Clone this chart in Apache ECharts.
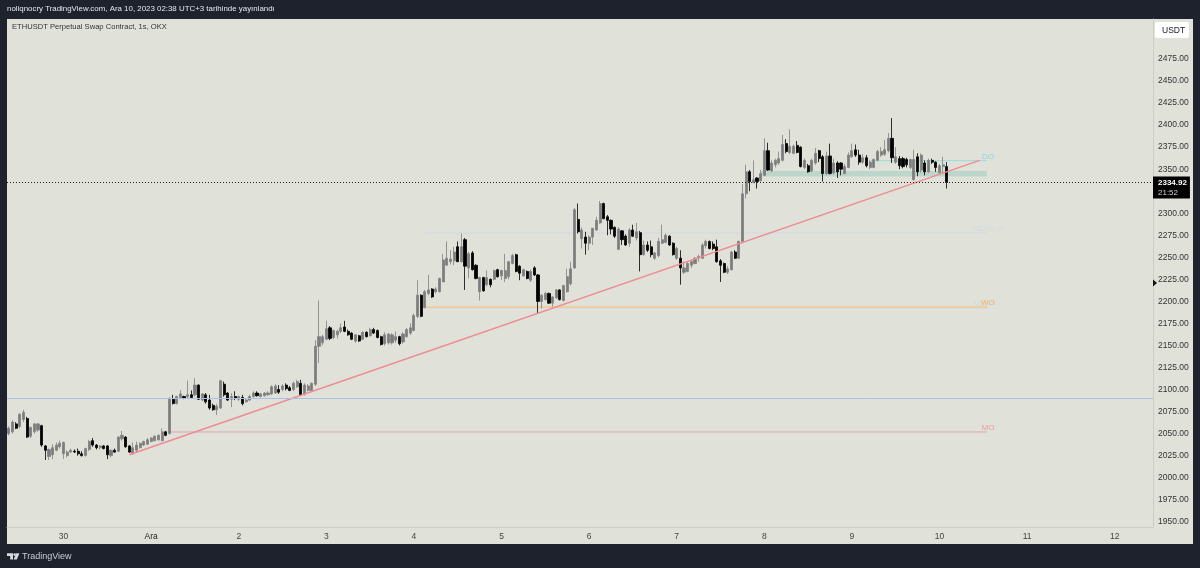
<!DOCTYPE html>
<html lang="en">
<head>
    <meta charset="UTF-8">
    <title>ETHUSDT</title>
    <script src="https://cdn.jsdelivr.net/npm/echarts@6/dist/echarts.min.js"></script>
    <style>
        html, body { margin: 0; padding: 0; background: #1e222d; }
        #chart { width: 1200px; height: 568px; }
    </style>
</head>
<body>
<div id="chart"></div>
<script>
    // hourly candles: open, close, low, high
    var candles = [
        [2050,2056,2048,2058],[2052,2063,2050,2065],[2061,2056,2055,2063],[2058,2072,2056,2073],[2066,2074,2063,2077],
        [2067,2046,2045,2069],[2047,2057,2045,2058],[2052,2061,2050,2062],[2054,2061,2052,2062],[2059,2037,2035,2060],
        [2036,2031,2020,2037],[2024,2032,2020,2033],[2026,2034,2021,2038],[2031,2037,2030,2040],[2035,2039,2033,2042],
        [2027,2040,2021,2041],[2025,2029,2023,2031],[2029,2031,2028,2033],[2030,2029,2028,2032],[2030,2027,2025,2033],
        [2027,2025,2024,2030],[2025,2033,2024,2034],[2032,2041,2030,2043],[2042,2037,2035,2045],[2037,2034,2032,2038],
        [2034,2036,2032,2037],[2036,2033,2032,2037],[2036,2026,2021,2037],[2025,2031,2023,2032],[2031,2029,2028,2033],
        [2030,2046,2029,2047],[2044,2048,2042,2053],[2046,2035,2034,2047],[2036,2029,2028,2037],[2027,2034,2026,2040],
        [2031,2037,2029,2041],[2034,2039,2033,2040],[2037,2041,2036,2042],[2038,2043,2037,2045],[2041,2045,2040,2046],
        [2042,2047,2041,2048],[2043,2048,2042,2049],[2042,2052,2041,2056],[2052,2048,2047,2053],[2050,2090,2049,2091],
        [2089,2084,2083,2094],[2084,2092,2083,2093],[2091,2095,2090,2099],[2092,2090,2089,2093],[2092,2094,2090,2110],
        [2094,2091,2090,2099],[2094,2105,2092,2113],[2105,2089,2088,2106],[2088,2095,2087,2096],[2094,2086,2084,2096],
        [2088,2079,2077,2094],[2082,2077,2076,2084],[2077,2081,2071,2084],[2079,2110,2078,2111],[2106,2094,2092,2109],
        [2096,2088,2087,2097],[2089,2092,2080,2096],[2092,2090,2088,2098],[2089,2092,2087,2093],[2091,2084,2082,2094],
        [2086,2088,2085,2089],[2088,2092,2087,2094],[2092,2096,2091,2098],[2096,2093,2092,2098],[2092,2095,2091,2096],
        [2093,2096,2092,2097],[2094,2096,2093,2098],[2095,2103,2094,2105],[2096,2104,2095,2106],[2100,2097,2095,2105],
        [2100,2104,2098,2106],[2105,2101,2099,2107],[2102,2099,2098,2104],[2100,2107,2098,2109],[2103,2109,2102,2111],
        [2107,2094,2093,2111],[2095,2105,2093,2107],[2099,2104,2098,2106],[2099,2107,2098,2108],[2106,2149,2104,2156],
        [2149,2160,2130,2201],[2153,2160,2150,2162],[2157,2169,2156,2178],[2170,2158,2156,2172],[2159,2167,2157,2168],
        [2162,2166,2158,2168],[2166,2170,2164,2175],[2171,2166,2165,2178],[2166,2162,2161,2168],[2164,2157,2156,2165],
        [2155,2162,2153,2163],[2161,2155,2154,2162],[2157,2165,2156,2166],[2165,2160,2159,2166],[2161,2168,2160,2170],
        [2168,2164,2163,2170],[2167,2159,2158,2168],[2160,2151,2150,2161],[2152,2162,2150,2165],[2153,2163,2151,2164],
        [2153,2162,2151,2164],[2156,2160,2153,2166],[2160,2152,2150,2161],[2154,2163,2152,2165],[2160,2168,2159,2170],
        [2164,2170,2162,2175],[2167,2184,2166,2186],[2183,2207,2181,2224],[2207,2183,2182,2208],[2193,2211,2192,2213],
        [2209,2213,2207,2230],[2214,2205,2204,2215],[2211,2214,2209,2216],[2211,2226,2210,2227],[2222,2247,2222,2254],
        [2241,2249,2241,2268],[2245,2248,2242,2258],[2246,2256,2241,2262],[2262,2245,2245,2268],[2245,2262,2244,2277],
        [2270,2240,2213,2272],[2238,2254,2226,2256],[2255,2236,2235,2257],[2241,2226,2225,2242],[2211,2227,2201,2228],
        [2227,2212,2211,2228],[2219,2227,2217,2235],[2225,2219,2216,2226],[2225,2235,2224,2236],[2236,2228,2227,2237],
        [2229,2235,2224,2236],[2226,2235,2222,2254],[2228,2245,2225,2246],[2243,2252,2242,2254],[2253,2234,2233,2254],
        [2240,2232,2224,2241],[2229,2236,2228,2237],[2234,2226,2225,2235],[2224,2234,2222,2236],[2238,2230,2229,2240],
        [2230,2200,2186,2231],[2200,2207,2192,2208],[2202,2209,2201,2211],[2209,2198,2197,2210],[2198,2205,2194,2206],
        [2204,2213,2203,2214],[2213,2202,2201,2214],[2201,2218,2200,2219],[2211,2228,2210,2237],[2220,2237,2218,2245],
        [2238,2304,2237,2306],[2293,2279,2277,2311],[2271,2281,2260,2284],[2273,2266,2253,2279],[2266,2273,2258,2275],
        [2273,2283,2264,2283],[2281,2292,2280,2296],[2289,2311,2288,2314],[2311,2294,2293,2312],[2296,2292,2275,2298],
        [2292,2282,2276,2293],[2284,2274,2272,2285],[2259,2282,2259,2284],[2280,2270,2264,2281],[2274,2264,2263,2276],
        [2266,2281,2262,2283],[2281,2274,2273,2287],[2272,2279,2269,2289],[2278,2253,2234,2280],[2253,2264,2252,2269],
        [2264,2258,2256,2268],[2262,2253,2250,2269],[2249,2255,2247,2256],[2252,2268,2250,2272],[2266,2270,2265,2287],
        [2267,2275,2266,2277],[2274,2264,2263,2275],[2266,2253,2252,2267],[2249,2260,2247,2262],[2249,2238,2219,2258],
        [2233,2238,2231,2245],[2234,2243,2233,2245],[2241,2245,2238,2247],[2243,2249,2242,2250],[2249,2251,2245,2253],
        [2249,2264,2248,2266],[2263,2268,2260,2270],[2268,2260,2259,2269],[2265,2260,2258,2268],[2262,2245,2244,2270],
        [2246,2241,2222,2248],[2243,2233,2232,2244],[2233,2237,2231,2240],[2236,2256,2235,2257],[2256,2249,2248,2258],
        [2249,2268,2248,2269],[2268,2322,2266,2333],[2322,2347,2317,2355],[2347,2336,2325,2349],[2335,2338,2334,2360],
        [2340,2336,2328,2341],[2337,2345,2336,2349],[2343,2371,2342,2385],[2371,2349,2348,2380],[2348,2357,2347,2360],
        [2355,2360,2352,2362],[2357,2362,2355,2370],[2360,2378,2359,2389],[2379,2370,2368,2384],[2369,2376,2367,2395],
        [2368,2376,2367,2378],[2377,2369,2368,2382],[2375,2353,2352,2376],[2352,2360,2350,2362],[2354,2347,2346,2356],
        [2348,2360,2347,2362],[2357,2368,2355,2374],[2371,2362,2358,2372],[2364,2345,2336,2366],[2345,2365,2343,2370],
        [2365,2345,2344,2379],[2346,2357,2344,2362],[2357,2347,2340,2359],[2357,2350,2343,2358],[2345,2353,2344,2356],
        [2352,2366,2351,2369],[2364,2371,2363,2379],[2372,2366,2364,2378],[2366,2358,2355,2372],[2358,2363,2356,2367],
        [2363,2354,2352,2366],[2352,2358,2350,2360],[2352,2361,2351,2362],[2360,2370,2359,2372],[2366,2370,2364,2375],
        [2367,2372,2365,2383],[2371,2385,2369,2391],[2385,2363,2357,2408],[2358,2364,2356,2375],[2362,2354,2350,2365],
        [2362,2353,2351,2364],[2361,2355,2352,2363],[2352,2361,2350,2362],[2338,2361,2337,2372],[2364,2347,2342,2368],
        [2349,2366,2346,2368],[2357,2347,2343,2360],[2347,2360,2346,2362],[2360,2358,2356,2362],[2358,2352,2347,2359],
        [2346,2354,2344,2356],[2353,2355,2345,2364],[2353,2334.92,2328,2358]
    ];
    var barCount = 314;   // bars that fit across the pane, including the empty ones on the right
    var dayIndexes = [15, 39, 63, 87, 111, 135, 159, 183, 207, 231, 255, 279, 303];
    var dayLabels = ['30', 'Ara', '2', '3', '4', '5', '6', '7', '8', '9', '10', '11', '12'];
    var priceTicks = [1950, 1975, 2000, 2025, 2050, 2075, 2100, 2125, 2150, 2175, 2200, 2225, 2250, 2275, 2300, 2325, 2350, 2375, 2400, 2425, 2450, 2475];

    var lastPrice = 2334.92;
    var monthLine = 2089.8;
    var trendIndexes = [33, 266];
    var trendValues = [2026, 2360];
    var levelNames = ['MDAY-L', 'MDAY-H', 'MO', 'WO', 'DO'];
    var levelValues = [2192.5, 2277.6, 2051.8, 2193.6, 2359.6];
    var levelStarts = [114, 114, 44, 114, 236];
    var levelEnd = 268;
    var zoneStart = 206;
    var zoneTop = 2348;
    var zoneBottom = 2341.7;

    var levelColors = ['#d9dbe0', '#d9dbe0', '#dba6b0', '#f3c88c', '#a6dcdc'];
    var levelWidths = [1.3, 1.3, 1, 1.3, 1.3];
    var levelTextColors = ['#d5d8de', '#d5d8de', '#ee9da1', '#f2b25e', '#8dd6de'];

    var categories = [];
    for (var i = 0; i < barCount; i++) {
        categories.push(String(i));
    }

    var fontName = '"Liberation Sans", sans-serif';
    var series = [];

    series.push({
        type: 'line',
        silent: true,
        data: [],
        z: 1,
        markArea: {
            silent: true,
            itemStyle: { color: '#bcd6cb' },
            data: [[{ coord: [zoneStart, zoneTop] }, { coord: [levelEnd, zoneBottom] }]]
        }
    });

    levelNames.forEach(function (name, n) {
        series.push({
            name: name,
            type: 'line',
            symbol: 'none',
            silent: true,
            z: 2,
            lineStyle: { color: levelColors[n], width: levelWidths[n] },
            data: [[levelStarts[n], levelValues[n]], [levelEnd, levelValues[n]]],
            endLabel: {
                show: true,
                formatter: name,
                color: levelTextColors[n],
                fontFamily: fontName,
                fontSize: 8,
                align: 'center',
                verticalAlign: 'bottom',
                distance: 0,
                offset: [1, 0]
            }
        });
    });

    series.push({
        type: 'candlestick',
        data: candles,
        barWidth: 2.6,
        z: 3,
        itemStyle: {
            color: '#7c7c7c',
            color0: '#000000',
            borderColor: '#808080',
            borderColor0: '#000000',
            borderWidth: 0.8
        },
        markLine: {
            silent: true,
            symbol: 'none',
            animation: false,
            data: [
                {
                    yAxis: monthLine,
                    lineStyle: { color: '#a9c0e8', width: 1, type: 'solid' },
                    label: { show: false }
                },
                {
                    yAxis: lastPrice,
                    lineStyle: { color: '#222222', width: 1, type: [1, 2] },
                    label: {
                        show: true,
                        position: 'end',
                        distance: 0,
                        offset: [0, 5],
                        formatter: '{a|' + lastPrice.toFixed(2) + '}\n{b|21:52}',
                        backgroundColor: '#000000',
                        padding: [1, 3, 1, 5],
                        rich: {
                            a: { color: '#ffffff', fontFamily: fontName, fontSize: 8, fontWeight: 'bold', lineHeight: 10 },
                            b: { color: '#d0d0d0', fontFamily: fontName, fontSize: 8, lineHeight: 10 }
                        }
                    }
                }
            ]
        }
    });

    series.push({
        type: 'line',
        symbol: 'none',
        silent: true,
        z: 4,
        lineStyle: { color: '#ef8b92', width: 1.5 },
        data: [[trendIndexes[0], trendValues[0]], [trendIndexes[1], trendValues[1]]]
    });

    var myChart = echarts.init(document.getElementById('chart'));
    myChart.setOption({
        animation: false,
        backgroundColor: '#1e222d',
        grid: { left: 7, top: 19, width: 1146, height: 508 },
        xAxis: {
            type: 'category',
            data: categories,
            axisTick: { show: false },
            splitLine: { show: false },
            axisLine: { show: true, onZero: false, lineStyle: { color: '#cbcdc6', width: 1 } },
            axisLabel: {
                margin: 5,
                fontFamily: fontName,
                fontSize: 8.5,
                color: function (v) {
                    return v === String(dayIndexes[1]) ? '#222222' : '#444444';
                },
                interval: function (index) {
                    return dayIndexes.indexOf(index) >= 0;
                },
                formatter: function (v, index) {
                    return dayLabels[dayIndexes.indexOf(index)];
                }
            }
        },
        yAxis: {
            type: 'value',
            position: 'right',
            min: 1944,
            max: 2520.4,
            scale: true,
            splitLine: { show: false },
            axisTick: { show: false },
            axisLine: { show: true, lineStyle: { color: '#cbcdc6', width: 1 } },
            axisLabel: {
                margin: 5,
                fontFamily: fontName,
                fontSize: 8.5,
                color: '#333333',
                customValues: priceTicks,
                formatter: function (v) {
                    return v.toFixed(2);
                }
            }
        },
        series: series,
        graphic: [
            { type: 'rect', z: -10, shape: { x: 7, y: 19, width: 1186, height: 525 }, style: { fill: '#e0e2da' } },
            { type: 'text', left: 7, top: 5, style: { text: 'noliqnocry TradingView.com, Ara 10, 2023 02:38 UTC+3 tarihinde yayınlandı', fill: '#e6e8ee', font: '7.9px ' + fontName } },
            { type: 'text', left: 12, top: 23, style: { text: 'ETHUSDT Perpetual Swap Contract, 1s, OKX', fill: '#333333', font: '7.6px ' + fontName } },
            { type: 'rect', z: 5, shape: { x: 1155, y: 22, width: 34, height: 16, r: 2 }, style: { fill: '#ffffff' } },
            { type: 'text', z: 6, left: 1162, top: 26, style: { text: 'USDT', fill: '#222222', font: '8.5px ' + fontName } },
            { type: 'polygon', z: 5, shape: { points: [[1153, 279.5], [1157, 283], [1153, 286.5]] }, style: { fill: '#111111' } },
            // TradingView logo
            { type: 'polygon', shape: { points: [[7, 553.3], [13, 553.3], [13, 559.4], [10.2, 559.4], [10.2, 556], [7, 556]] }, style: { fill: '#d8dbe2' } },
            { type: 'circle', shape: { cx: 14.7, cy: 554.6, r: 1.3 }, style: { fill: '#d8dbe2' } },
            { type: 'polygon', shape: { points: [[16.3, 553.3], [19.4, 553.3], [16.8, 559.4], [13.6, 559.4]] }, style: { fill: '#d8dbe2' } },
            { type: 'text', left: 22, top: 552, style: { text: 'TradingView', fill: '#c8cbd3', font: '9px ' + fontName } }
        ]
    });
</script>
</body>
</html>
